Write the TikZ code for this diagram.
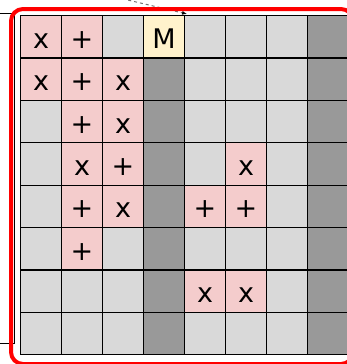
\documentclass[tikz,border=0pt]{standalone}
\usepackage{fontspec}
\usepackage{tikz}
\usetikzlibrary{arrows.meta,positioning}
\newfontfamily\cellfont{DejaVu Sans}
\definecolor{hitpink}{HTML}{F4CCCC}
\definecolor{cellgray}{HTML}{D9D9D9}
\definecolor{wallgray}{HTML}{999999}
\definecolor{startyellow}{HTML}{FFF2CC}

\begin{document}
\begin{tikzpicture}[
    x=1pt, y=-1pt,
    cell/.style={draw=black, line width=1.1pt, anchor=north west,
      minimum width=41pt, minimum height=42.4pt, inner sep=0pt,
      text height=23pt, text depth=0pt,
      font=\cellfont\fontsize{27}{32}\selectfont},
    hit/.style={cell, fill=hitpink},
    empty/.style={cell, fill=cellgray},
    wall/.style={cell, fill=wallgray},
    start/.style={cell, fill=startyellow},
    kind-x/.style={hit, node contents={x}},
    kind-+/.style={hit, node contents={+}},
    kind-M/.style={start, node contents={M}},
    kind-g/.style={empty, node contents={}},
    kind-d/.style={wall, node contents={}},
    sidebox/.style={draw=black, line width=0.8pt, anchor=north east,
      minimum width=60pt, minimum height=330pt},
    link/.style={-{Latex[length=5pt,width=4pt,black]}, dashed,
      draw=black!55, line width=1pt},
    frame/.style={draw=red, line width=4pt, rounded corners=12pt}
  ]
    \useasboundingbox (0,0) rectangle (347,364);
    \node[sidebox] (side) at (15,13) {};
    \foreach \r/\rowspec in {0/{x,+,g,M,g,g,g,d}, 1/{x,+,x,d,g,g,g,d},
        2/{g,+,x,d,g,g,g,d}, 3/{g,x,+,d,g,x,g,d}, 4/{g,+,x,d,+,+,g,d},
        5/{g,+,g,d,g,g,g,d}, 6/{g,g,g,d,x,x,g,d}, 7/{g,g,g,d,g,g,g,d}}{
      \foreach \s [count=\c from 0] in \rowspec
        \node (cell-\r-\c) at ({20+41*\c},{15+42.4*\r}) [kind-\s];
    }
    \coordinate (from) at (64,-15);
    \draw[link] (from) -- ([xshift=2pt,yshift=1pt]cell-0-3.north east);
    \node[frame, anchor=north west, minimum width=342pt, minimum height=355pt]
      (border) at (9,7) {};
  \end{tikzpicture}
\end{document}
